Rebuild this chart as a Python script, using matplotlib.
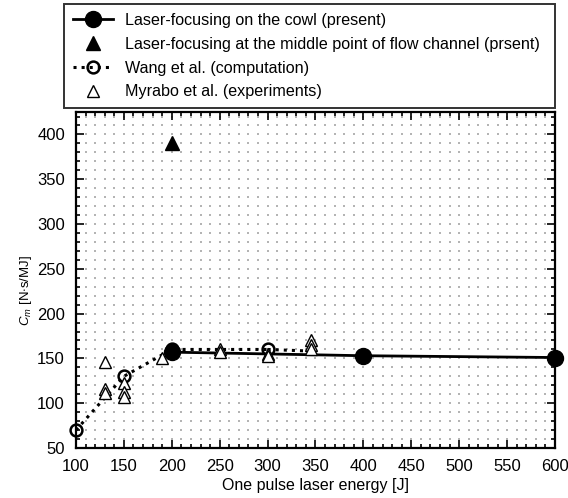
import numpy as np
import matplotlib
matplotlib.use('Agg')
import matplotlib.pyplot as plt
from matplotlib.ticker import MultipleLocator

plt.rcParams['font.family'] = ['Liberation Sans', 'DejaVu Sans']
plt.rcParams['mathtext.fontset'] = 'custom'
plt.rcParams['mathtext.rm'] = 'Liberation Sans'
plt.rcParams['mathtext.it'] = 'Liberation Sans:italic'

# data
cowl_x = [200, 400, 600]
cowl_y = [157, 153, 151]

middle_x = [200]
middle_y = [390]

wang_x = [100, 150, 200, 300, 350]
wang_y = [70, 130, 160, 160, 158]

myrabo_x = [130, 130, 130, 150, 150, 150, 190, 250, 250, 300, 300, 345, 345, 345]
myrabo_y = [146, 116, 111, 122, 112, 107, 151, 161, 157, 155, 153, 170, 165, 161]

labels = ['Laser-focusing on the cowl (present)',
          'Laser-focusing at the middle point of flow channel (prsent)',
          'Wang et al. (computation)',
          'Myrabo et al. (experiments)']

fig = plt.figure(figsize=(5.68, 4.98), dpi=100)
ax = fig.add_axes([0.1338, 0.1004, 0.8433, 0.6746])

# faint dotted background grid (every 10 J / 10 units)
gx, gy = np.meshgrid(np.arange(110, 600, 10), np.arange(60, 425, 10))
ax.scatter(gx.ravel(), gy.ravel(), s=0.6, c='#b4b4b4', marker='s', lw=0, zorder=0)

h1, = ax.plot(cowl_x, cowl_y, '-', color='black', lw=2, marker='o', ms=11.5,
              mfc='black', mec='black', zorder=4, clip_on=False)
h2, = ax.plot(middle_x, middle_y, linestyle='none', marker='^', ms=10.5,
              color='black', zorder=4)
h3, = ax.plot(wang_x[:4], wang_y[:4], ':', color='black', lw=2.2, marker='o', ms=8.5,
              mfc='none', mec='black', mew=1.8, zorder=3, clip_on=False)
ax.plot(wang_x[3:], wang_y[3:], ':', color='black', lw=2.2, zorder=3)
h4, = ax.plot(myrabo_x, myrabo_y, linestyle='none', marker='^', ms=8,
              mfc='white', mec='black', mew=1.0, zorder=5)

ax.set_xlim(100, 600)
ax.set_ylim(50, 425)
ax.xaxis.set_major_locator(MultipleLocator(50))
ax.xaxis.set_minor_locator(MultipleLocator(10))
ax.yaxis.set_major_locator(MultipleLocator(50))
ax.yaxis.set_minor_locator(MultipleLocator(10))
ax.tick_params(which='both', direction='in', top=True, right=True, labelsize=12,
               width=1.2, colors='black')
ax.tick_params(which='major', length=6)
ax.tick_params(which='minor', length=3)
ax.tick_params(axis='x', which='major', pad=8)
ax.tick_params(axis='y', which='major', pad=8)
for sp in ax.spines.values():
    sp.set_linewidth(1.6)

ax.set_xlabel('One pulse laser energy [J]', fontsize=11.5)
ax.xaxis.set_label_coords(0.5, -0.09)
ax.set_ylabel(r'$C_m$ [N$\cdot$s/MJ]', fontsize=9.5)
ax.yaxis.set_label_coords(-0.087, 0.47)

leg = fig.legend([h1, h2, h3, h4], labels, loc='upper left',
                 bbox_to_anchor=(0.1127, 0.783, 0.864, 0.209), mode='expand',
                 fontsize=11.6, frameon=True, fancybox=False, edgecolor='black',
                 handlelength=2.5, handletextpad=0.75, labelspacing=0.55,
                 borderpad=0.55, borderaxespad=0.0)
leg.get_frame().set_linewidth(1.4)

fig.savefig('out.png', dpi=100)
